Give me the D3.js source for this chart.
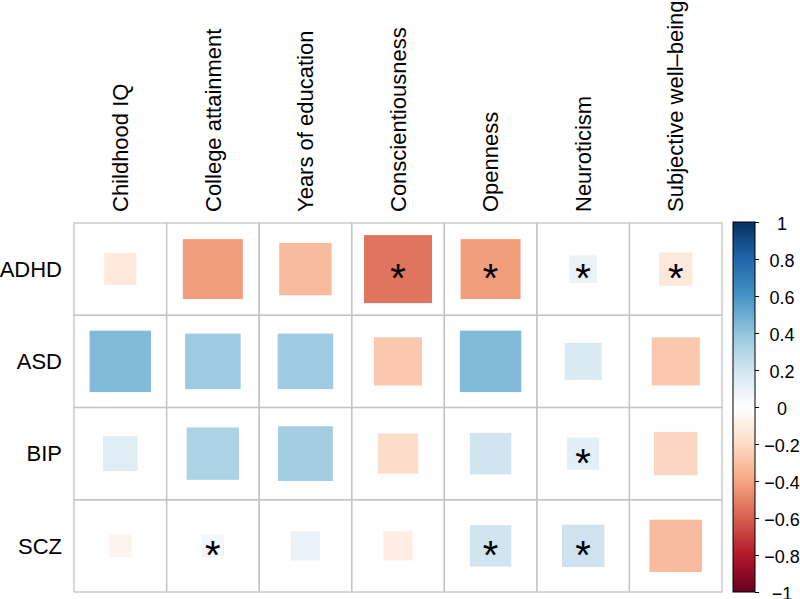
<!DOCTYPE html>
<html>
<head>
<meta charset="utf-8">
<script src="https://cdn.jsdelivr.net/npm/d3@7"></script>
<style>
  body { margin: 0; background: #fff; }
  text { font-family: "Liberation Sans", Arial, Helvetica, sans-serif; fill: #000; }
</style>
</head>
<body>
<div id="chart"></div>
<script>
// ---------------------------//
//            DATA            //
// ---------------------------//

const traits = ["Childhood IQ", "College attainment", "Years of education",
    "Conscientiousness", "Openness", "Neuroticism", "Subjective well\u2013being"];
const disorders = ["ADHD", "ASD", "BIP", "SCZ"];

// correlation per disorder, in trait order
const adhd = [-0.12, -0.42, -0.32, -0.54, -0.42, 0.09, -0.13];
const asd  = [0.44, 0.36, 0.36, -0.27, 0.44, 0.16, -0.27];
const bip  = [0.14, 0.32, 0.35, -0.19, 0.20, 0.12, -0.22];
const scz  = [-0.06, 0.06, 0.10, -0.10, 0.20, 0.21, -0.32];

// significant cells (1 = starred)
const adhdSig = [0, 0, 0, 1, 1, 1, 1];
const asdSig  = [0, 0, 0, 0, 0, 0, 0];
const bipSig  = [0, 0, 0, 0, 0, 1, 0];
const sczSig  = [0, 1, 0, 0, 1, 1, 0];

const legendTicks = [-1, -0.8, -0.6, -0.4, -0.2, 0, 0.2, 0.4, 0.6, 0.8, 1];

const values = [adhd, asd, bip, scz];
const sigs = [adhdSig, asdSig, bipSig, sczSig];

const cells = [];
disorders.forEach((dis, i) => {
    traits.forEach((tr, j) => {
        cells.push({row: dis, col: tr, r: values[i][j], sig: sigs[i][j]});
    });
});

// ---------------------------//
//       SET  CANVAS          //
// ---------------------------//

const W = 800, H = 599;
const svg = d3.select("#chart").append("svg")
    .attr("width", W)
    .attr("height", H);

svg.append("rect").attr("width", W).attr("height", H).attr("fill", "#fff");

const x = d3.scaleBand().domain(traits).range([74, 722]);
const y = d3.scaleBand().domain(disorders).range([223, 592]);

// RdBu palette used by corrplot
const palette = ["#67001F", "#B2182B", "#D6604D", "#F4A582", "#FDDBC7", "#FFFFFF",
    "#D1E5F0", "#92C5DE", "#4393C3", "#2166AC", "#053061"];
const color = d3.scaleLinear()
    .domain(d3.range(11).map(i => -1 + i * 0.2))
    .range(palette)
    .interpolate(d3.interpolateRgb);

// ---------------------------//
//       SQUARES & GRID       //
// ---------------------------//

const side = d => Math.sqrt(Math.abs(d.r)) * x.bandwidth();

svg.selectAll(".sq")
    .data(cells)
    .enter()
    .append("rect")
    .attr("class", "sq")
    .attr("x", d => x(d.col) + x.bandwidth() / 2 - side(d) / 2)
    .attr("y", d => y(d.row) + y.bandwidth() / 2 - side(d) / 2)
    .attr("width", side)
    .attr("height", side)
    .attr("fill", d => color(d.r));

svg.selectAll(".cell")
    .data(cells)
    .enter()
    .append("rect")
    .attr("class", "cell")
    .attr("x", d => x(d.col))
    .attr("y", d => y(d.row))
    .attr("width", x.bandwidth())
    .attr("height", y.bandwidth())
    .attr("fill", "none")
    .attr("stroke", "#c4c4c4")
    .attr("stroke-width", 1.3);

// stars for significant cells
svg.selectAll(".star")
    .data(cells.filter(d => d.sig))
    .enter()
    .append("text")
    .attr("class", "star")
    .attr("x", d => x(d.col) + x.bandwidth() / 2)
    .attr("y", d => y(d.row) + y.bandwidth() / 2 + 23)
    .attr("text-anchor", "middle")
    .style("font-size", "40px")
    .text("*");

// ---------------------------//
//           LABELS           //
// ---------------------------//

svg.selectAll(".rowlab")
    .data(disorders)
    .enter()
    .append("text")
    .attr("class", "rowlab")
    .attr("x", 62)
    .attr("y", d => y(d) + y.bandwidth() / 2)
    .attr("dy", "0.35em")
    .attr("text-anchor", "end")
    .style("font-size", "22px")
    .text(d => d);

svg.selectAll(".collab")
    .data(traits)
    .enter()
    .append("text")
    .attr("class", "collab")
    .attr("transform", d => `translate(${x(d) + x.bandwidth() / 2},212) rotate(-90)`)
    .attr("dy", "0.35em")
    .attr("text-anchor", "start")
    .style("font-size", "22px")
    .text(d => d);

// ---------------------------//
//        COLOUR LEGEND       //
// ---------------------------//

const ly = d3.scaleLinear().domain([-1, 1]).range([592, 222]);

const grad = svg.append("defs").append("linearGradient")
    .attr("id", "lg")
    .attr("x1", 0).attr("y1", 1)
    .attr("x2", 0).attr("y2", 0);
grad.selectAll("stop")
    .data(d3.range(0, 1.0001, 0.05))
    .enter()
    .append("stop")
    .attr("offset", d => d)
    .attr("stop-color", d => color(-1 + 2 * d));

svg.append("rect")
    .attr("x", 733)
    .attr("y", ly(1))
    .attr("width", 22)
    .attr("height", ly(-1) - ly(1))
    .attr("fill", "url(#lg)")
    .attr("stroke", "#000")
    .attr("stroke-width", 1);

const legAxis = svg.append("g")
    .attr("transform", "translate(755,0)")
    .call(d3.axisRight(ly)
        .tickValues(legendTicks)
        .tickSize(4)
        .tickFormat(d3.format(".1~f")));

legAxis.select(".domain").remove();
legAxis.selectAll("line").attr("stroke", "#000");
legAxis.selectAll("text")
    .attr("x", 27)
    .attr("dy", "0.42em")
    .attr("text-anchor", "middle")
    .style("font-size", "18px")
    .style("font-family", "'Liberation Sans', Arial, sans-serif")
    .attr("fill", "#000");
</script>
</body>
</html>
